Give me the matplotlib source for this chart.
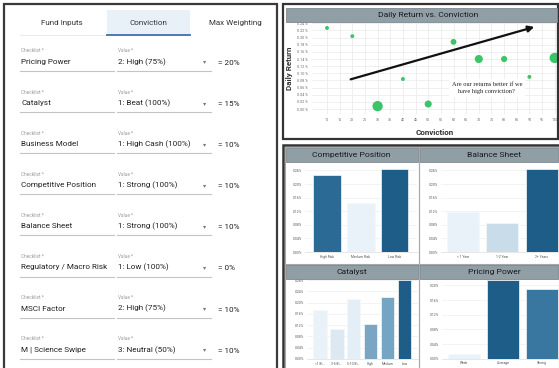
import matplotlib
matplotlib.use("Agg")
import matplotlib.pyplot as plt
from matplotlib.patches import Rectangle
from matplotlib.lines import Line2D
from matplotlib.ticker import FuncFormatter

W, H = 559, 368

# ---------------- data ----------------
tabs = ["Fund Inputs", "Conviction", "Max Weighting"]
checklist_items = ["Pricing Power", "Catalyst", "Business Model", "Competitive Position",
                   "Balance Sheet", "Regulatory / Macro Risk", "MSCI Factor", "M | Science Swipe"]
checklist_values = ["2: High (75%)", "1: Beat (100%)", "1: High Cash (100%)", "1: Strong (100%)",
                    "1: Strong (100%)", "1: Low (100%)", "2: High (75%)", "3: Neutral (50%)"]
max_weights = ["= 20%", "= 15%", "= 10%", "= 10%", "= 10%", "= 0%", "= 10%", "= 10%"]

conviction = [10, 20, 30, 40, 50, 60, 70, 80, 90, 100]
daily_return = [0.227, 0.204, 0.008, 0.084, 0.014, 0.188, 0.140, 0.140, 0.090, 0.143]
bubble_size = [8, 8, 55, 8, 26, 18, 34, 20, 8, 55]
conv_ticks = list(range(10, 101, 5))
ret_ticks = [0.00, 0.02, 0.04, 0.06, 0.08, 0.10, 0.12, 0.14, 0.16, 0.18, 0.20, 0.22, 0.24]

cp_cats = ["High Risk", "Medium Risk", "Low Risk"]
cp_vals = [0.226, 0.144, 0.244]
bs_cats = ["< 1 Year", "1-2 Year", "2+ Years"]
bs_vals = [0.118, 0.085, 0.244]
cat_cats = ["<1 Bi...", "3-5 Bi...", "5-10 Bi...", "High", "Medium", "Low"]
cat_vals = [0.173, 0.106, 0.214, 0.123, 0.219, 0.280]
pp_cats = ["Weak", "Average", "Strong"]
pp_vals = [0.012, 0.216, 0.191]

cp_colors = ["#2b6a95", "#e9f2f9", "#1f5d89"]
bs_colors = ["#e9f2f9", "#c9dce9", "#1f5d89"]
cat_colors = ["#e9f2f9", "#dce9f2", "#e4eef7", "#7aa6c4", "#76a4c3", "#1f5d89"]
pp_colors = ["#e9f2f9", "#1f5d89", "#3a77a0"]

NARROW = ["Roboto", "DejaVu Sans"]
plt.rcParams["font.family"] = ["Roboto", "DejaVu Sans"]

fig = plt.figure(figsize=(W / 100, H / 100), dpi=100)
fig.patch.set_facecolor("white")


def P(x, y):
    return (x / W, 1 - y / H)


def rect(x0, y0, x1, y1, **kw):
    fig.add_artist(Rectangle(P(x0, y1), (x1 - x0) / W, (y1 - y0) / H,
                             transform=fig.transFigure, **kw))


def line(x0, y0, x1, y1, **kw):
    fig.add_artist(Line2D([x0 / W, x1 / W], [1 - y0 / H, 1 - y1 / H],
                          transform=fig.transFigure, **kw))


def text(x, y, s, **kw):
    fig.text(x / W, 1 - y / H, s, **kw)


def ax_at(l, t, r, b):
    return fig.add_axes([l / W, 1 - b / H, (r - l) / W, (b - t) / H])


# ---------------- left form panel ----------------
rect(4, 4, 277, 372, fill=False, edgecolor="#3a3a3a", linewidth=1.6)
rect(107, 10, 190, 34, facecolor="#e9f1f8", edgecolor="none")
line(20, 34.5, 107, 34.5, color="#e6e6e6", linewidth=0.6)
line(107, 34.5, 190, 34.5, color="#3d6db0", linewidth=1.3)
tab_x = [62, 148, 235]
for tx, tname in zip(tab_x, tabs):
    text(tx, 23, tname, ha="center", va="center", fontsize=5.8, color="#333333", family=NARROW)

row_y0, row_dy = 62, 41.1
for i, (item, val, wgt) in enumerate(zip(checklist_items, checklist_values, max_weights)):
    y = row_y0 + i * row_dy
    text(21, y - 11, "Checklist *", ha="left", va="center", fontsize=3.4, color="#9a9a9a", family=NARROW)
    text(118, y - 11, "Value *", ha="left", va="center", fontsize=3.4, color="#9a9a9a", family=NARROW)
    text(21, y, item, ha="left", va="center", fontsize=5.9, color="#222222", family=NARROW)
    text(118, y, val, ha="left", va="center", fontsize=5.9, color="#222222", family=NARROW)
    text(205, y, "\u25be", ha="center", va="center", fontsize=4.5, color="#777777", family=["DejaVu Sans"])
    text(218, y + 1, wgt, ha="left", va="center", fontsize=5.9, color="#222222", family=NARROW)
    line(20, y + 9, 114, y + 9, color="#c4c4c4", linewidth=0.8)
    line(117, y + 9, 211, y + 9, color="#c4c4c4", linewidth=0.8)

# ---------------- scatter panel ----------------
rect(283, 4, 558, 139, fill=False, edgecolor="#333333", linewidth=1.6)
rect(286, 8, 557, 22, facecolor="#909ea6", edgecolor="#7d8a91", linewidth=0.6)
text(428, 15, "Daily Return vs. Conviction", ha="center", va="center", fontsize=6.1,
     color="#1a1a1a", family=NARROW)

ax = ax_at(312, 22, 558, 114)
ax.scatter(conviction, daily_return, s=bubble_size, color="#3cc46b", edgecolors="none", zorder=3)
ax.set_xlim(4.07, 101.3)
ax.set_ylim(-0.014, 0.2437)
ax.set_xticks(conv_ticks)
ax.set_yticks(ret_ticks)
ax.yaxis.set_major_formatter(FuncFormatter(lambda v, p: f"{v:.2f} %"))
ax.tick_params(length=0, labelsize=2.6, colors="#666666", pad=3)
ax.grid(True, color="#ececec", linewidth=0.6)
for s in ax.spines.values():
    s.set_visible(False)
ax.set_xlabel("Conviction", fontsize=5.8, fontweight="bold", color="#333333", labelpad=5)
ax.set_ylabel("Daily Return", fontsize=5.8, fontweight="bold", color="#333333", labelpad=3)
arrow_start = (18.3, 0.081)
arrow_end = (93.0, 0.232)
ax.annotate("", xy=arrow_end, xytext=arrow_start,
            arrowprops=dict(arrowstyle="-|>", color="#111111", lw=1.6, mutation_scale=9), zorder=4)
ax.text(73.2, 0.059, "Are our returns better if we\nhave high conviction?", ha="center", va="center",
        fontsize=4.6, family=["Liberation Serif", "DejaVu Serif"], color="#222222", linespacing=1.5,
        bbox=dict(facecolor="white", edgecolor="none", pad=2), zorder=5)

# ---------------- bar panels ----------------
rect(283, 145, 560, 370, fill=False, edgecolor="#333333", linewidth=1.8)


def bar_panel(box, title, cats, vals, colors, axbox, xlim, ylim, ticks, title_x):
    x0, y0, x1, y1 = box
    rect(x0, y0, x1, y1, fill=False, edgecolor="#a8a8a8", linewidth=0.8)
    rect(x0 + 1, y0 + 1, x1 - 1, y0 + 15, facecolor="#909ea6", edgecolor="#7d8a91", linewidth=0.6)
    text(title_x, y0 + 8, title, ha="center", va="center", fontsize=6.1, color="#1a1a1a", family=NARROW)
    a = ax_at(*axbox)
    a.bar(range(len(cats)), vals, width=0.81, color=colors, edgecolor="#f4f8fb", linewidth=0.5, zorder=3)
    a.set_xticks(range(len(cats)))
    a.set_xticklabels(cats)
    a.set_xlim(*xlim)
    a.set_ylim(*ylim)
    a.set_yticks(ticks)
    a.yaxis.set_major_formatter(FuncFormatter(lambda v, p: f"{v:.2f}%"))
    a.tick_params(length=0, labelsize=2.4, colors="#555555", pad=2)
    a.grid(True, axis="y", color="#efefef", linewidth=0.5)
    for s in a.spines.values():
        s.set_visible(False)
    a.spines["bottom"].set_visible(True)
    a.spines["bottom"].set_color("#dddddd")
    a.spines["bottom"].set_linewidth(0.5)
    return a


t04 = [0.00, 0.04, 0.08, 0.12, 0.16, 0.20, 0.24]
bar_panel((285, 147, 419, 265), "Competitive Position", cp_cats, cp_vals, cp_colors,
          (305, 165, 417, 252), (-0.65, 2.66), (0, 0.256), t04, 351)
bar_panel((419, 147, 559, 265), "Balance Sheet", bs_cats, bs_vals, bs_colors,
          (441, 165, 559, 252), (-0.56, 2.44), (0, 0.256), t04, 494)
bar_panel((285, 264, 419, 370), "Catalyst", cat_cats, cat_vals, cat_colors,
          (307, 277, 418, 359), (-0.75, 5.8), (0, 0.291), t04 + [0.28], 352)
bar_panel((419, 264, 559, 370), "Pricing Power", pp_cats, pp_vals, pp_colors,
          (442, 277, 559, 358.7), (-0.56, 2.44), (0, 0.223), [0.00, 0.04, 0.08, 0.12, 0.16, 0.20], 494)

fig.savefig("out.png", dpi=100, facecolor="white")
